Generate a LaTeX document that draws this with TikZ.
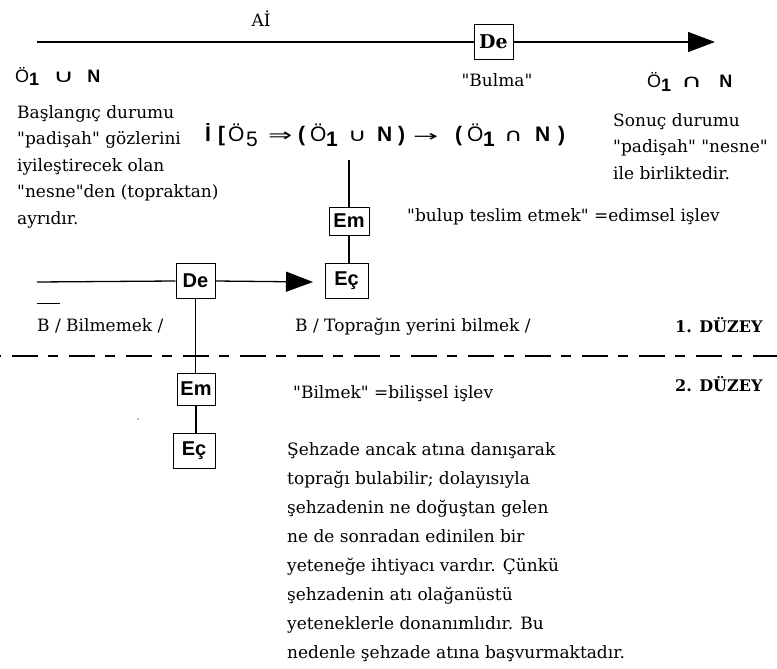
\documentclass[tikz,border=0pt]{standalone}
\usepackage{fontspec}
\setmainfont{DejaVu Serif}[Ligatures=TeXOff]
\newfontfamily\sansf{Liberation Sans}
\newfontfamily\symf{DejaVu Sans}
\usetikzlibrary{arrows.meta}

\begin{document}
\begin{tikzpicture}[x=1pt,y=-1pt,
  conn/.style={line width=1.3pt},
  arr/.style={-{Triangle[length=27pt,width=20pt]}},
  box/.style={draw,line width=1pt,inner sep=0pt,
    font=\sansf\bfseries\fontsize{20}{20}\selectfont},
  serifbox/.style={box,font=\bfseries\fontsize{19}{19}\selectfont},
  body/.style={inner sep=0pt,align=left,font=\fontsize{17}{26.5}\selectfont},
  lbl/.style={inner sep=0pt,font=\fontsize{17}{19}\selectfont},
  level/.style={inner sep=0pt,font=\bfseries\fontsize{16}{18}\selectfont},
  state/.style={inner sep=0pt,font=\sansf\fontsize{18}{18}\selectfont},
  fpart/.style={inner sep=0pt,anchor=base west,font=\sansf\fontsize{21}{21}\selectfont}
]
\fill[white] (0,0) rectangle (777,669);
\useasboundingbox (0,0) rectangle (777,669);

% ---- upper axis: the search ----
\node[lbl] (ai) at (261,19) {Aİ};
\coordinate (s1) at (37,42);
\coordinate (t1) at (715,42);
\node[serifbox,minimum width=39pt,minimum height=35pt] (de1) at (493.5,42) {De};
\draw[conn] (s1) -- (de1.west);
\draw[conn,arr] (de1.east) -- (t1);
\node[lbl] (bulma) at (497,80) {"Bulma"};

\node[state,anchor=base west] (st1) at (15,82)
  {Ö\raisebox{-4pt}{\bfseries 1}\kern14pt{\symf\scalebox{1.6}[1]{∪}}\kern13pt{\bfseries N}};
\node[state,anchor=base west] (st2) at (647,88)
  {Ö\raisebox{-4pt}{\bfseries 1}\kern10pt{\symf\scalebox{1.6}[1]{∩}}\kern17pt{\bfseries N}};

% ---- descriptions ----
\node[body,anchor=north west] (left) at (17,105)
  {Başlangıç durumu\\ "padişah" gözlerini\\ iyileştirecek olan\\ "nesne"den (topraktan)\\ ayrıdır.};
\node[body,anchor=north west] (right) at (613,113)
  {Sonuç durumu\\ "padişah" "nesne"\\ ile birliktedir.};

% ---- formula, set piece by piece ----
\foreach \px/\pt [count=\i] in {
    205/{\bfseries İ}, 218/{\bfseries [}, 228/{Ö}, 246/{\raisebox{-5pt}{5}},
    268/{\symf\fontsize{18}{18}\selectfont\scalebox{1.6}[1]{⇒}},
    298/{\bfseries (}, 310/{Ö}, 326/{\raisebox{-5pt}{\bfseries 1}},
    348/{\symf\fontsize{18}{18}\selectfont\scalebox{1.4}[1]{∪}},
    377/{\bfseries N}, 398/{\bfseries )},
    413/{\symf\fontsize{15}{15}\selectfont\scalebox{2}[1]{→}},
    455/{\bfseries (}, 467/{Ö}, 483/{\raisebox{-5pt}{\bfseries 1}},
    504/{\symf\fontsize{18}{18}\selectfont\scalebox{1.4}[1]{∩}},
    535/{\bfseries N}, 558/{\bfseries )}}
  \node[fpart] (f\i) at (\px,142) {\pt};
\coordinate (fx) at (349,160);

\node[box,minimum width=40pt,minimum height=28pt] (em1) at (349,221) {Em};
\node[box,minimum width=43pt,minimum height=35pt] (ec1) at (346.5,280.5) {Eç};
\draw[conn] (fx) -- (fx |- em1.north);
\draw[conn] (em1.south) -- (em1.south |- ec1.north);
\node[lbl,anchor=base west] (edim) at (407,221) {"bulup teslim etmek" =edimsel işlev};

% ---- lower axis: knowing ----
\coordinate (s2) at (37,282);
\coordinate (t2) at (313,282);
\node[box,minimum width=39pt,minimum height=35pt] (de2) at (195.5,281) {De};
\draw[conn] (s2) -- (de2.west);
\draw[conn,arr] (de2.east) -- (t2);

\node[lbl,anchor=base west] (bneg) at (37,331) {B / Bilmemek /};
\coordinate (ob1) at (37,303);
\coordinate (ob2) at (60,303);
\draw[line width=1pt] (ob1) -- (ob2);
\node[lbl,anchor=base west] (bpos) at (295,331) {B / Toprağın yerini bilmek /};
\node[level,anchor=base west] (lv1) at (675,332) {1. DÜZEY};

% ---- level separator ----
\coordinate (dl) at (0,356);
\coordinate (dr) at (777,356);
\draw[line width=1.4pt,dash pattern=on 26pt off 10pt on 10pt off 11pt,dash phase=45pt] (dl) -- (dr);

\node[level,anchor=base west] (lv2) at (675,391) {2. DÜZEY};
\node[box,minimum width=38pt,minimum height=32pt] (em2) at (196,389) {Em};
\node[box,minimum width=42pt,minimum height=35pt] (ec2) at (194,450.5) {Eç};
\draw[conn] (de2.south) -- (de2.south |- em2.north);
\draw[conn] (em2.south) -- (em2.south |- ec2.north);
\fill[gray] (138,419) circle (0.9pt);
\node[lbl,anchor=base west] (bilis) at (293,398) {"Bilmek" =bilişsel işlev};

\node[body,anchor=north west,font=\fontsize{17}{29}\selectfont] (para) at (287,442)
  {Şehzade ancak atına danışarak\\ toprağı bulabilir; dolayısıyla\\ şehzadenin ne doğuştan gelen\\ ne de sonradan edinilen bir\\ yeteneğe ihtiyacı vardır. Çünkü\\ şehzadenin atı olağanüstü\\ yeteneklerle donanımlıdır. Bu\\ nedenle şehzade atına başvurmaktadır.};
\end{tikzpicture}
\end{document}
